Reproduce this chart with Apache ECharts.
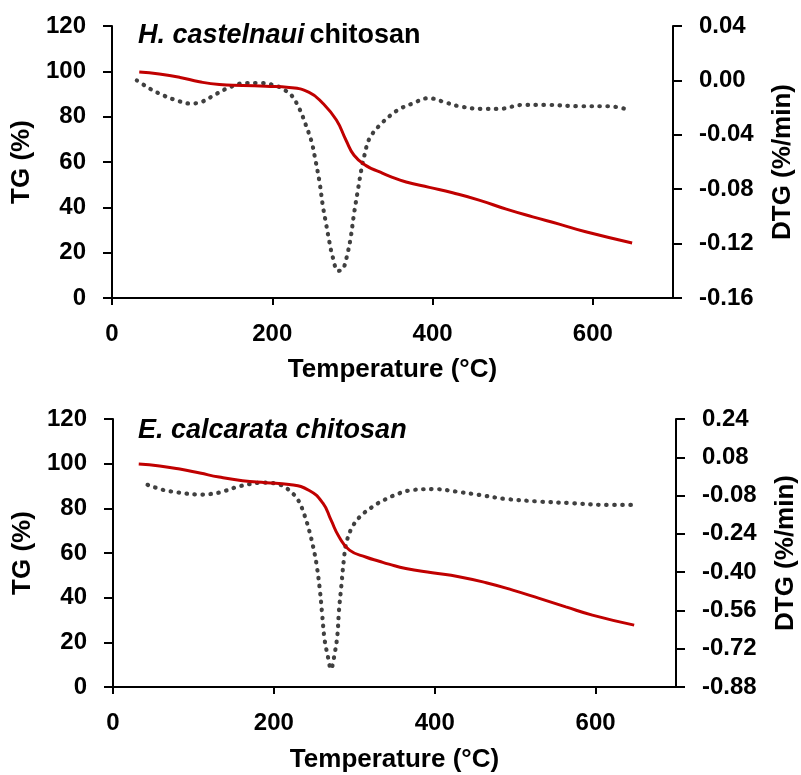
<!DOCTYPE html>
<html>
<head>
<meta charset="utf-8">
<script src="https://cdn.jsdelivr.net/npm/echarts@6/dist/echarts.min.js"></script>
<style>html,body{margin:0;padding:0;background:#fff}#c{width:801px;height:775px}</style>
</head>
<body>
<div id="c"></div>
<script>
// ---- data (top panel: H. castelnaui chitosan) ----
const tgTempA = [34, 59, 85, 109, 134, 163, 192, 221, 246, 263, 280, 292, 302, 317, 334, 346, 367, 396, 425, 458, 492, 525, 558, 591, 649];
const tgA = [99.7, 98.8, 97.3, 95.4, 94.2, 93.8, 93.4, 92.9, 90.7, 85.9, 78.5, 69.6, 63.0, 58.4, 55.6, 53.8, 51.2, 48.8, 46.4, 43.2, 39.2, 35.8, 32.6, 29.2, 24.3];
const dtgTempA = [31, 47, 64, 82, 97, 111, 130, 147, 165, 186, 205, 215, 224, 234, 242, 249, 253, 259, 263, 267, 271, 275, 282, 288, 294, 298, 302, 307, 311, 315, 321, 334, 356, 375, 395, 415, 433, 462, 483, 512, 541, 583, 620, 641];
const dtgA = [0.000, -0.006, -0.011, -0.015, -0.017, -0.016, -0.010, -0.005, -0.002, -0.002, -0.004, -0.007, -0.011, -0.021, -0.033, -0.045, -0.056, -0.075, -0.092, -0.105, -0.118, -0.129, -0.140, -0.139, -0.127, -0.115, -0.098, -0.080, -0.066, -0.055, -0.043, -0.033, -0.022, -0.017, -0.013, -0.016, -0.019, -0.021, -0.021, -0.018, -0.018, -0.019, -0.019, -0.021];

// ---- data (bottom panel: E. calcarata chitosan) ----
const tgTempB = [32, 58, 83, 108, 132, 161, 190, 219, 244, 261, 271, 281, 294, 315, 331, 343, 364, 397, 430, 464, 497, 530, 563, 596, 648];
const tgB = [99.9, 99.0, 97.6, 95.8, 94.0, 92.4, 91.5, 90.7, 88.0, 82.3, 74.8, 67.3, 61.3, 58.1, 56.3, 55.0, 53.1, 51.2, 49.4, 46.7, 43.4, 39.7, 35.9, 32.2, 27.7];
const dtgTempB = [43, 62, 81, 108, 120, 135, 153, 170, 186, 203, 217, 230, 238, 244, 249, 253, 257, 260, 263, 267, 271, 276, 279, 281, 284, 287, 290, 297, 308, 323, 331, 339, 348, 368, 401, 426, 455, 488, 530, 571, 612, 646];
const dtgB = [-0.035, -0.056, -0.067, -0.076, -0.074, -0.065, -0.045, -0.032, -0.026, -0.030, -0.052, -0.098, -0.161, -0.227, -0.296, -0.366, -0.468, -0.575, -0.680, -0.750, -0.805, -0.733, -0.663, -0.559, -0.454, -0.349, -0.279, -0.214, -0.165, -0.126, -0.109, -0.095, -0.081, -0.059, -0.053, -0.063, -0.077, -0.094, -0.105, -0.112, -0.119, -0.119];

// ---- tick labels ----
const xTicks = [0, 200, 400, 600];
const tgTicks = [0, 20, 40, 60, 80, 100, 120];
const dtgTicksA = [-0.16, -0.12, -0.08, -0.04, 0.00, 0.04];
const dtgTicksB = [-0.88, -0.72, -0.56, -0.40, -0.24, -0.08, 0.08, 0.24];

const FONT = "'Liberation Sans', Arial, Helvetica, sans-serif";
const pair = (xs, ys) => xs.map((x, i) => [x, ys[i]]);
const lblStyle = {fontSize: 24, fontWeight: 'bold', color: '#000', fontFamily: FONT};
const nameStyle = {fontSize: 26, fontWeight: 'bold', color: '#000', fontFamily: FONT};
const axLine = {show: true, onZero: false, lineStyle: {color: '#000', width: 2}};

function xAxis(g, gap) {
  return {
    type: 'value', gridIndex: g, min: 0, max: 700, interval: 200,
    axisLine: axLine,
    axisTick: {show: true, length: 7, lineStyle: {color: '#000', width: 2}, customValues: xTicks},
    axisLabel: Object.assign({margin: 24, customValues: xTicks}, lblStyle),
    splitLine: {show: false},
    name: 'Temperature (°C)', nameLocation: 'middle', nameGap: gap, nameTextStyle: nameStyle
  };
}
function tgAxis(g) {
  return {
    type: 'value', gridIndex: g, position: 'left',
    min: tgTicks[0], max: tgTicks[tgTicks.length - 1], interval: tgTicks[1] - tgTicks[0],
    axisLine: axLine,
    axisTick: {show: true, length: 9, lineStyle: {color: '#000', width: 2}},
    axisLabel: Object.assign({margin: 26}, lblStyle),
    splitLine: {show: false},
    name: 'TG (%)', nameLocation: 'middle', nameGap: 70, nameTextStyle: nameStyle
  };
}
function dtgAxis(g, ticks, gap) {
  const iv = Math.round((ticks[1] - ticks[0]) * 100) / 100;
  return {
    type: 'value', gridIndex: g, position: 'right',
    min: ticks[0], max: ticks[ticks.length - 1], interval: iv,
    axisLine: axLine,
    axisTick: {show: true, length: 9, lineStyle: {color: '#000', width: 2}},
    axisLabel: Object.assign({margin: 26, formatter: v => (Math.abs(v) < 1e-9 ? 0 : v).toFixed(2)}, lblStyle),
    splitLine: {show: false},
    name: 'DTG (%/min)', nameLocation: 'middle', nameGap: gap, nameTextStyle: nameStyle
  };
}
const tgLine = (xi, yi, d) => ({
  type: 'line', xAxisIndex: xi, yAxisIndex: yi, data: d, showSymbol: false, smooth: 0.5,
  lineStyle: {color: '#C00000', width: 3}, silent: true, animation: false
});
const dtgLine = (xi, yi, d) => ({
  type: 'line', xAxisIndex: xi, yAxisIndex: yi, data: d, showSymbol: false, smooth: 0.35,
  lineStyle: {color: '#404040', width: 4.2, type: [0.5, 7.5], cap: 'round'}, silent: true, animation: false
});
const titleRich = {
  i: {fontSize: 27, fontWeight: 'bold', fontStyle: 'italic', color: '#000', fontFamily: FONT},
  b: {fontSize: 27, fontWeight: 'bold', color: '#000', fontFamily: FONT}
};

const chart = echarts.init(document.getElementById('c'), null, {renderer: 'canvas'});
chart.setOption({
  backgroundColor: '#fff',
  animation: false,
  title: [
    {left: 133, top: 17, text: '{i|H. castelnaui} {b|chitosan}', textStyle: {rich: titleRich}},
    {left: 133, top: 412, text: '{i|E. calcarata chitosan}', textStyle: {rich: titleRich}}
  ],
  grid: [
    {left: 112, right: 128, top: 26, height: 272, containLabel: false, outerBoundsMode: 'none'},
    {left: 113, right: 125, top: 419, height: 268, containLabel: false, outerBoundsMode: 'none'}
  ],
  xAxis: [xAxis(0, 59), xAxis(1, 60)],
  yAxis: [tgAxis(0), dtgAxis(0, dtgTicksA, 97), tgAxis(1), dtgAxis(1, dtgTicksB, 97)],
  series: [
    dtgLine(0, 1, pair(dtgTempA, dtgA)),
    tgLine(0, 0, pair(tgTempA, tgA)),
    dtgLine(1, 3, pair(dtgTempB, dtgB)),
    tgLine(1, 2, pair(tgTempB, tgB))
  ]
});
</script>
</body>
</html>
